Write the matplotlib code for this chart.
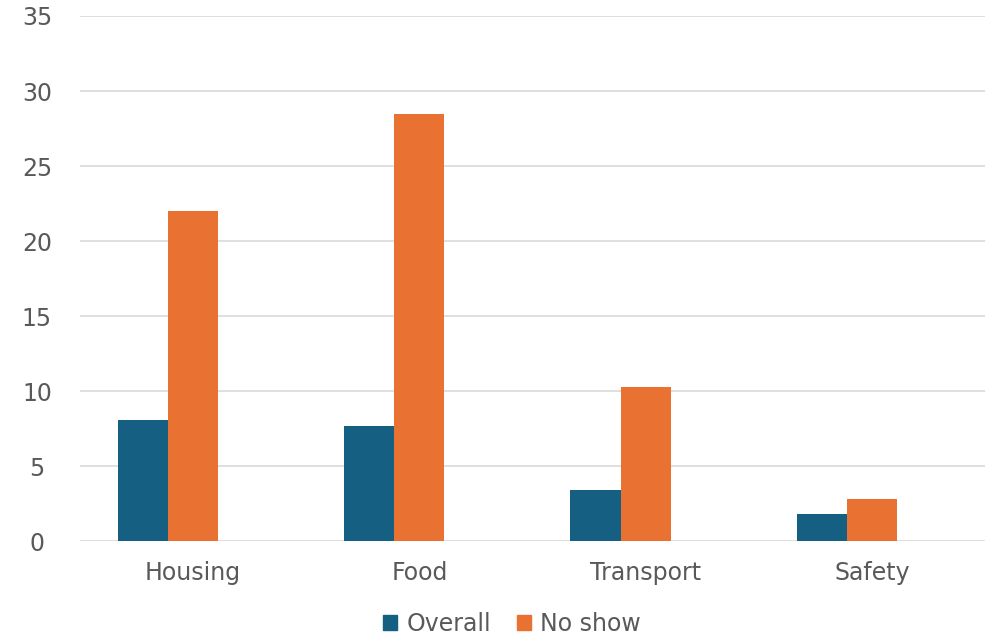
import numpy as np
import matplotlib.pyplot as plt
from matplotlib.patches import Patch

categories = ['Housing', 'Food', 'Transport', 'Safety']
overall = [8.1, 7.7, 3.4, 1.8]
no_show = [22.0, 28.5, 10.3, 2.8]

blue = '#156082'
orange = '#E97132'
grey = '#595959'

plt.rcParams['font.family'] = ['DejaVu Sans']

fig = plt.figure(figsize=(9.92, 6.38), dpi=100)
ax = fig.add_axes([0.0806, 0.1513, 0.9124, 0.8237])

x = np.arange(len(categories))
w = 0.222
# three slots per category, third one is empty
ax.bar(x - w, overall, w, color=blue, label='Overall', zorder=3)
ax.bar(x, no_show, w, color=orange, label='No show', zorder=3)

ax.set_xlim(-0.5, len(categories) - 0.5)
ax.set_ylim(0, 35)
ax.set_yticks(np.arange(0, 36, 5))
ax.set_xticks(x)
ax.set_xticklabels(categories)
ax.yaxis.grid(True, color='#D9D9D9', linewidth=1.2, zorder=0)
for s in ax.spines.values():
    s.set_visible(False)
ax.tick_params(axis='both', length=0, labelsize=17, labelcolor=grey)
ax.tick_params(axis='y', pad=31)
ax.tick_params(axis='x', pad=14)
for lbl in ax.get_yticklabels():
    lbl.set_horizontalalignment('center')

handles = [Patch(color=blue, label='Overall'), Patch(color=orange, label='No show')]
fig.legend(handles=handles, loc='center', bbox_to_anchor=(0.516, 0.022), ncol=2,
           frameon=False, fontsize=17, labelcolor=grey, handlelength=0.6,
           handleheight=0.6, handletextpad=0.4, columnspacing=1.1)

fig.savefig('out.png', dpi=100)
